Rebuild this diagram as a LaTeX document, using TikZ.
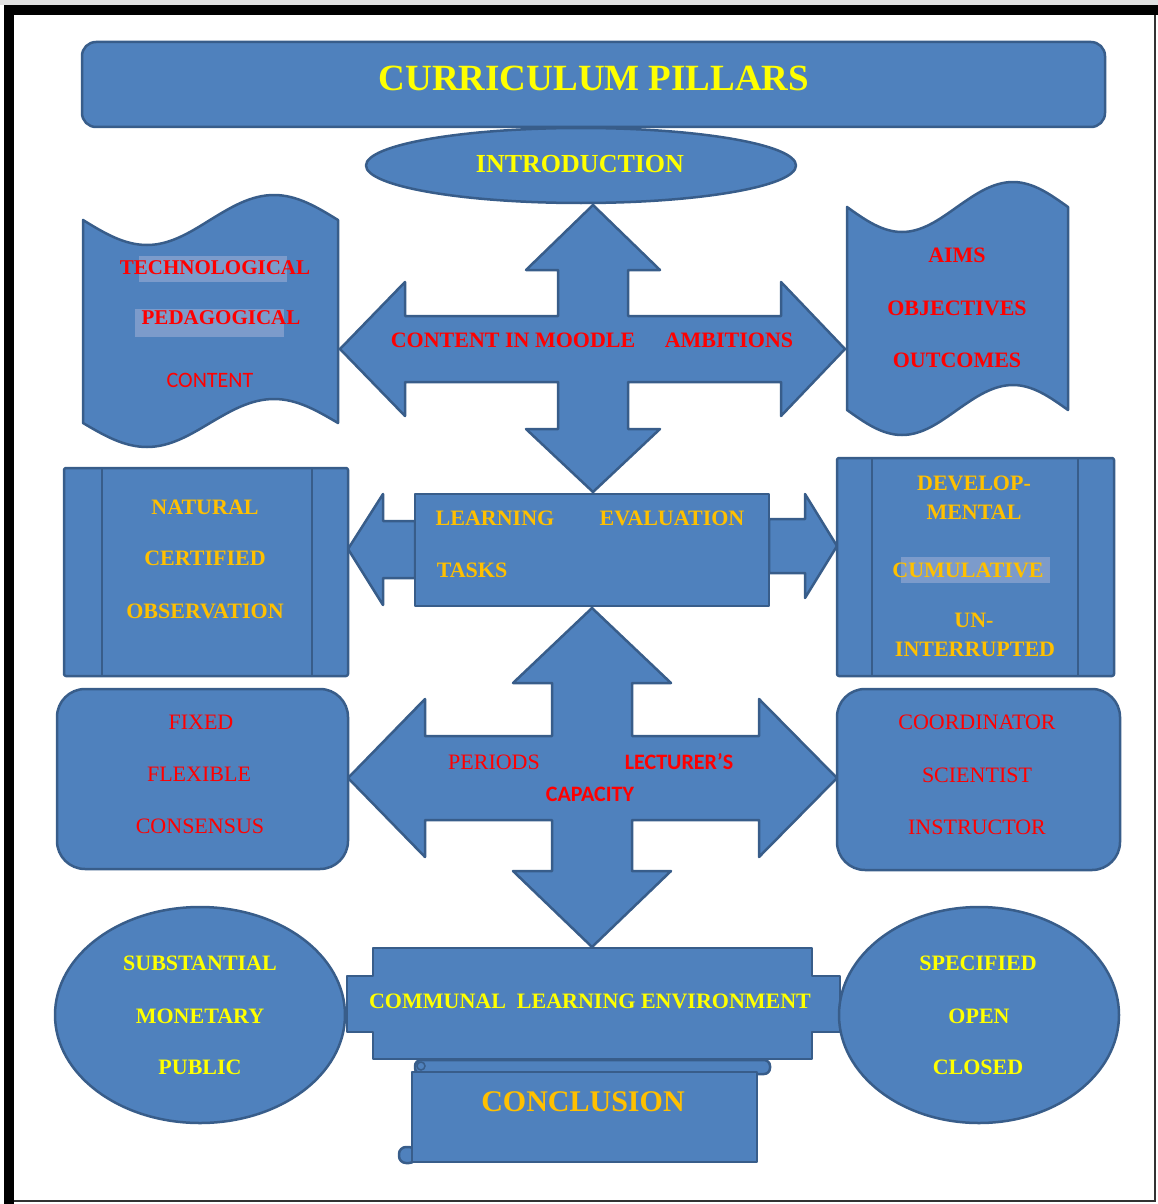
\documentclass[tikz,border=0pt]{standalone}
\usepackage{fontspec}
\setmainfont{Liberation Serif}
\newfontfamily\calfont{Carlito}
\usetikzlibrary{shapes.geometric}

\definecolor{boxfill}{HTML}{4F81BD}
\definecolor{boxline}{HTML}{385D8A}
\definecolor{hiblue}{RGB}{124,155,203}
\definecolor{txtyellow}{HTML}{FFFF00}
\definecolor{txtgold}{HTML}{FFC000}
\definecolor{txtred}{HTML}{FF0000}

\tikzset{
  blueshape/.style={fill=boxfill, draw=boxline, line width=2.5pt, line join=round},
  barline/.style={draw=boxline, line width=2.5pt},
  lbl/.style={inner sep=0pt, font=\fontsize{22}{24}\selectfont\bfseries},
  ylw/.style={lbl, text=txtyellow},
  gld/.style={lbl, text=txtgold},
  redb/.style={lbl, text=txtred},
  redr/.style={inner sep=0pt, text=txtred, font=\fontsize{22}{24}\selectfont},
  redc/.style={inner sep=0pt, text=txtred, font=\calfont\fontsize{22}{24}\selectfont\bfseries},
}

\begin{document}
\begin{tikzpicture}[x=1pt, y=-1pt]
\useasboundingbox (0,0) rectangle (1158,1204);

% page frame
\fill[black!12] (0,0) rectangle (1158,5);
\fill[black] (4,5) rectangle (1158,15);
\fill[black] (4,5) rectangle (14,1204);
\draw[black!80, line width=2pt] (14,1201) -- (1155,1201) -- (1155,15);

% ---------- top: title and introduction ----------
\draw[blueshape] (581,165.5) ellipse [x radius=215pt, y radius=37.5pt];
\draw[blueshape, rounded corners=14pt] (82,42) rectangle (1105,127);
\node[ylw, font=\fontsize{37}{40}\selectfont\bfseries] (title) at (594,78) {CURRICULUM PILLARS};
\node[ylw, font=\fontsize{26}{28}\selectfont\bfseries] (intro) at (580,164) {INTRODUCTION};

% ---------- upper four-way arrow ----------
\coordinate (crossA) at (593,349);
\begin{scope}[shift={(crossA)}]
\draw[blueshape] (0,-144) -- (67,-79) -- (35,-79) -- (35,-33) -- (188,-33) -- (188,-67)
  -- (252,0) -- (188,67) -- (188,33) -- (35,33) -- (35,80) -- (67,80) -- (0,143)
  -- (-67,80) -- (-35,80) -- (-35,33) -- (-188,33) -- (-188,67) -- (-253,0)
  -- (-188,-67) -- (-188,-33) -- (-35,-33) -- (-35,-79) -- (-67,-79) -- cycle;
\end{scope}
\node[redb] (moodle) at (513,340) {CONTENT IN MOODLE};
\node[redb] (ambitions) at (729,340) {AMBITIONS};

% left wave scroll
\draw[blueshape] (83,220) sin (147,245) cos (210,220) sin (274,195) cos (338,220)
  -- (338,423) sin (274,399) cos (210,423) sin (147,447) cos (83,423) -- cycle;
\fill[hiblue] (139,256) rectangle (287,282);
\fill[hiblue] (135,309) rectangle (284,337);
\node[redb, font=\fontsize{21}{23}\selectfont\bfseries] (techno) at (215,268) {TECHNOLOGICAL};
\node[redb, font=\fontsize{21}{23}\selectfont\bfseries] (pedago) at (221,318) {PEDAGOGICAL};
\node[inner sep=0pt, text=txtred, font=\calfont\fontsize{22}{24}\selectfont] (content) at (210,380) {CONTENT};

% right wave scroll
\draw[blueshape] (847,207) sin (902,232) cos (957,207) sin (1013,182) cos (1068,207)
  -- (1068,410) sin (1013,385) cos (957,410) sin (902,435) cos (847,410) -- cycle;
\node[redb] (aims) at (957,255) {AIMS};
\node[redb] (objectives) at (957,308) {OBJECTIVES};
\node[redb] (outcomes) at (957,360) {OUTCOMES};

% ---------- middle row: tasks and evaluation ----------
\draw[blueshape] (415,521) -- (383,521) -- (383,494) -- (348,549) -- (383,605) -- (383,578) -- (415,578) -- cycle;
\draw[blueshape] (769,519) -- (805,519) -- (805,494) -- (837,546) -- (805,598) -- (805,573) -- (769,573) -- cycle;
\draw[blueshape] (415,494) rectangle (769,606);
\node[gld] (learning) at (495,518) {LEARNING};
\node[gld] (evaluation) at (672,518) {EVALUATION};
\node[gld] (tasks) at (472,570) {TASKS};

% left double-bar box
\draw[blueshape, rounded corners=2pt] (64,468) rectangle (348,676);
\draw[barline] (102,468) -- (102,676);
\draw[barline] (312,468) -- (312,676);
\node[gld] (natural) at (205,507) {NATURAL};
\node[gld] (certified) at (205,558) {CERTIFIED};
\node[gld] (observation) at (205,611) {OBSERVATION};

% right double-bar box
\draw[blueshape, rounded corners=2pt] (837,458) rectangle (1114,676);
\draw[barline] (872,458) -- (872,676);
\draw[barline] (1078,458) -- (1078,676);
\fill[hiblue] (901,557) rectangle (1050,583);
\node[gld] (develop) at (974,483) {DEVELOP-};
\node[gld] (mental) at (974,512) {MENTAL};
\node[gld] (cumulative) at (968,570) {CUMULATIVE};
\node[gld] (un) at (974,620) {UN-};
\node[gld] (interrupted) at (975,649) {INTERRUPTED};

% ---------- lower four-way arrow ----------
\coordinate (crossB) at (592,778);
\begin{scope}[shift={(crossB)}]
\draw[blueshape] (0,-170) -- (79,-95) -- (40,-95) -- (40,-42) -- (167,-42) -- (167,-79)
  -- (245,0) -- (167,79) -- (167,42) -- (40,42) -- (40,93) -- (79,93) -- (0,169)
  -- (-79,93) -- (-40,93) -- (-40,42) -- (-167,42) -- (-167,79) -- (-244,0)
  -- (-167,-79) -- (-167,-42) -- (-40,-42) -- (-40,-95) -- (-79,-95) -- cycle;
\end{scope}
\node[redr] (periods) at (494,762) {PERIODS};
\node[redc] (lecturer) at (679,762) {LECTURER’S};
\node[redc] (capacity) at (590,794) {CAPACITY};

% rounded side boxes
\draw[blueshape, rounded corners=28pt] (57,689) rectangle (348,869);
\node[redr] (fixed) at (201,722) {FIXED};
\node[redr] (flexible) at (199,774) {FLEXIBLE};
\node[redr] (consensus) at (200,826) {CONSENSUS};

\draw[blueshape, rounded corners=28pt] (837,689) rectangle (1120,870);
\node[redr] (coordinator) at (977,722) {COORDINATOR};
\node[redr] (scientist) at (977,775) {SCIENTIST};
\node[redr] (instructor) at (977,827) {INSTRUCTOR};

% ---------- bottom: learning environment and conclusion ----------
\draw[blueshape] (373,948) -- (812,948) -- (812,976) -- (840,976) -- (840,1032) -- (812,1032)
  -- (812,1059) -- (373,1059) -- (373,1032) -- (347,1032) -- (347,976) -- (373,976) -- cycle;
\node[ylw] (communal) at (590,1001) {COMMUNAL\ \ LEARNING ENVIRONMENT};

% horizontal scroll
\draw[blueshape, rounded corners=6pt] (415,1060) rectangle (770,1074);
\draw[blueshape, rounded corners=7pt] (399,1147) rectangle (416,1163);
\draw[blueshape] (412,1072) rectangle (757,1162);
\draw[boxline, line width=1.5pt] (421,1066) circle [radius=4pt];
\node[gld, font=\fontsize{30}{32}\selectfont\bfseries] (conclusion) at (583,1102) {CONCLUSION};

% side ellipses
\draw[blueshape] (200,1015) ellipse [x radius=145pt, y radius=108pt];
\node[ylw] (substantial) at (200,963) {SUBSTANTIAL};
\node[ylw] (monetary) at (200,1016) {MONETARY};
\node[ylw] (public) at (200,1067) {PUBLIC};

\draw[blueshape] (979,1015) ellipse [x radius=140pt, y radius=108pt];
\node[ylw] (specified) at (978,963) {SPECIFIED};
\node[ylw] (open) at (979,1016) {OPEN};
\node[ylw] (closed) at (978,1067) {CLOSED};
\end{tikzpicture}
\end{document}
